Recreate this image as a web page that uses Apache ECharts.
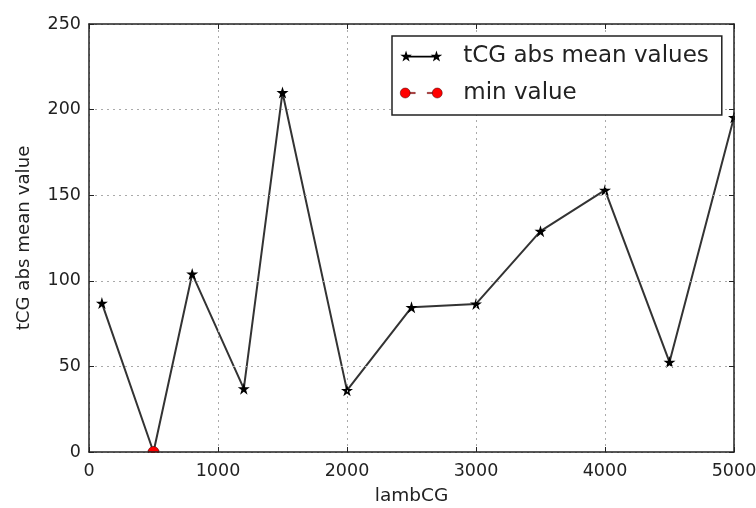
<!DOCTYPE html>
<html>
<head>
<meta charset="utf-8">
<script src="https://cdn.jsdelivr.net/npm/echarts@6/dist/echarts.min.js"></script>
<style>
  html, body { margin: 0; padding: 0; background: #fff; }
  #main { width: 756px; height: 508px; }
</style>
</head>
<body>
<div id="main"></div>
<script>
// lambCG values and the matching tCG abs mean values
var lambCG = [100, 500, 800, 1200, 1500, 2000, 2500, 3000, 3500, 4000, 4500, 5000];
var meanValues = [87, 0, 104, 37, 210, 36, 84.5, 86.5, 129, 153, 52.5, 195.5];
var minPoint = [500, 0];

var xTicks = { min: 0, max: 5000, interval: 1000 };
var yTicks = { min: 0, max: 250, interval: 50 };

var font = "DejaVu Sans";

// star marker like matplotlib '*'
var star = "path://M6,0 L7.35,4.14 L11.71,4.15 L8.19,6.71 L9.53,10.85 L6,8.3 L2.47,10.85 L3.81,6.71 L0.29,4.15 L4.65,4.14 Z";
// legend icons: marker - line - marker
var starLegend = "path://M6,0 L7.35,4.14 L11.71,4.15 L8.19,6.71 L9.53,10.85 L6,8.3 L2.47,10.85 L3.81,6.71 L0.29,4.15 L4.65,4.14 Z " +
  "M36,0 L37.35,4.14 L41.71,4.15 L38.19,6.71 L39.53,10.85 L36,8.3 L32.47,10.85 L33.81,6.71 L30.29,4.15 L34.65,4.14 Z " +
  "M6,5.2 L36,5.2 L36,6.8 L6,6.8 Z";
var dotLegend = "path://M0,5 A5,5 0 1,1 10,5 A5,5 0 1,1 0,5 Z M32,5 A5,5 0 1,1 42,5 A5,5 0 1,1 32,5 Z " +
  "M10,4.4 L15,4.4 L15,5.6 L10,5.6 Z M27,4.4 L32,4.4 L32,5.6 L27,5.6 Z";

var chart = echarts.init(document.getElementById("main"));

function plain(v) { return String(v); }

function frameAxis(extra) {
  return Object.assign({
    type: "value",
    z: 10,
    axisLine: { show: true, onZero: false, lineStyle: { color: "#222", width: 1.5 } },
    axisTick: { show: true, inside: true, length: 5, lineStyle: { color: "#222" } },
    axisLabel: { show: false },
    splitLine: { show: false }
  }, extra);
}

chart.setOption({
  animation: false,
  backgroundColor: "#fff",
  textStyle: { fontFamily: font },
  grid: { left: 89, right: 22, top: 24, bottom: 56, outerBoundsMode: "none" },
  legend: {
    orient: "vertical",
    left: 392,
    top: 36,
    z: 12,
    padding: [7, 13, 9, 8],
    itemGap: 11,
    itemWidth: 42,
    itemHeight: 11,
    borderColor: "#222",
    borderWidth: 1.5,
    backgroundColor: "#fff",
    textStyle: { fontFamily: font, fontSize: 23, color: "#222", lineHeight: 26, padding: [0, 0, 0, 16] },
    data: [
      { name: "tCG abs mean values", icon: starLegend, itemStyle: { color: "#000" } },
      { name: "min value", icon: dotLegend, itemStyle: { color: "#f00", borderColor: "#400", borderWidth: 0.5 } }
    ]
  },
  xAxis: [
    frameAxis({
      position: "bottom",
      min: xTicks.min, max: xTicks.max, interval: xTicks.interval,
      name: "lambCG",
      nameLocation: "middle",
      nameGap: 35,
      nameTextStyle: { fontFamily: font, fontSize: 18.5, color: "#222" },
      axisLabel: { show: true, margin: 10, fontFamily: font, fontSize: 17.5, color: "#222", formatter: plain },
      splitLine: { show: true, lineStyle: { color: "#aaa", type: [2, 4], width: 1 } }
    }),
    frameAxis({ position: "top", min: xTicks.min, max: xTicks.max, interval: xTicks.interval })
  ],
  yAxis: [
    frameAxis({
      position: "left",
      min: yTicks.min, max: yTicks.max, interval: yTicks.interval,
      name: "tCG abs mean value",
      nameLocation: "middle",
      nameGap: 56,
      nameTextStyle: { fontFamily: font, fontSize: 18.2, color: "#222" },
      axisLabel: { show: true, margin: 8, fontFamily: font, fontSize: 17.5, color: "#222", formatter: plain },
      splitLine: { show: true, lineStyle: { color: "#aaa", type: [2, 4], width: 1 } }
    }),
    frameAxis({ position: "right", min: yTicks.min, max: yTicks.max, interval: yTicks.interval })
  ],
  // white strips outside the plot, so markers get cut at the frame like the original
  graphic: [
    { type: "rect", z: 5, silent: true, shape: { x: 0, y: 453, width: 756, height: 55 }, style: { fill: "#fff" } },
    { type: "rect", z: 5, silent: true, shape: { x: 735, y: 0, width: 21, height: 508 }, style: { fill: "#fff" } }
  ],
  series: [
    {
      name: "tCG abs mean values",
      type: "line",
      z: 2,
      data: lambCG.map(function (x, i) { return [x, meanValues[i]]; }),
      symbol: star,
      symbolSize: 12,
      showAllSymbol: true,
      clip: false,
      lineStyle: { color: "#333", width: 2 },
      itemStyle: { color: "#000" }
    },
    {
      name: "min value",
      type: "line",
      z: 3,
      data: [minPoint],
      symbol: "circle",
      symbolSize: 11,
      clip: false,
      lineStyle: { color: "#f00", type: "dashed" },
      itemStyle: { color: "#f00", borderColor: "#400", borderWidth: 0.5 }
    }
  ]
});
</script>
</body>
</html>
